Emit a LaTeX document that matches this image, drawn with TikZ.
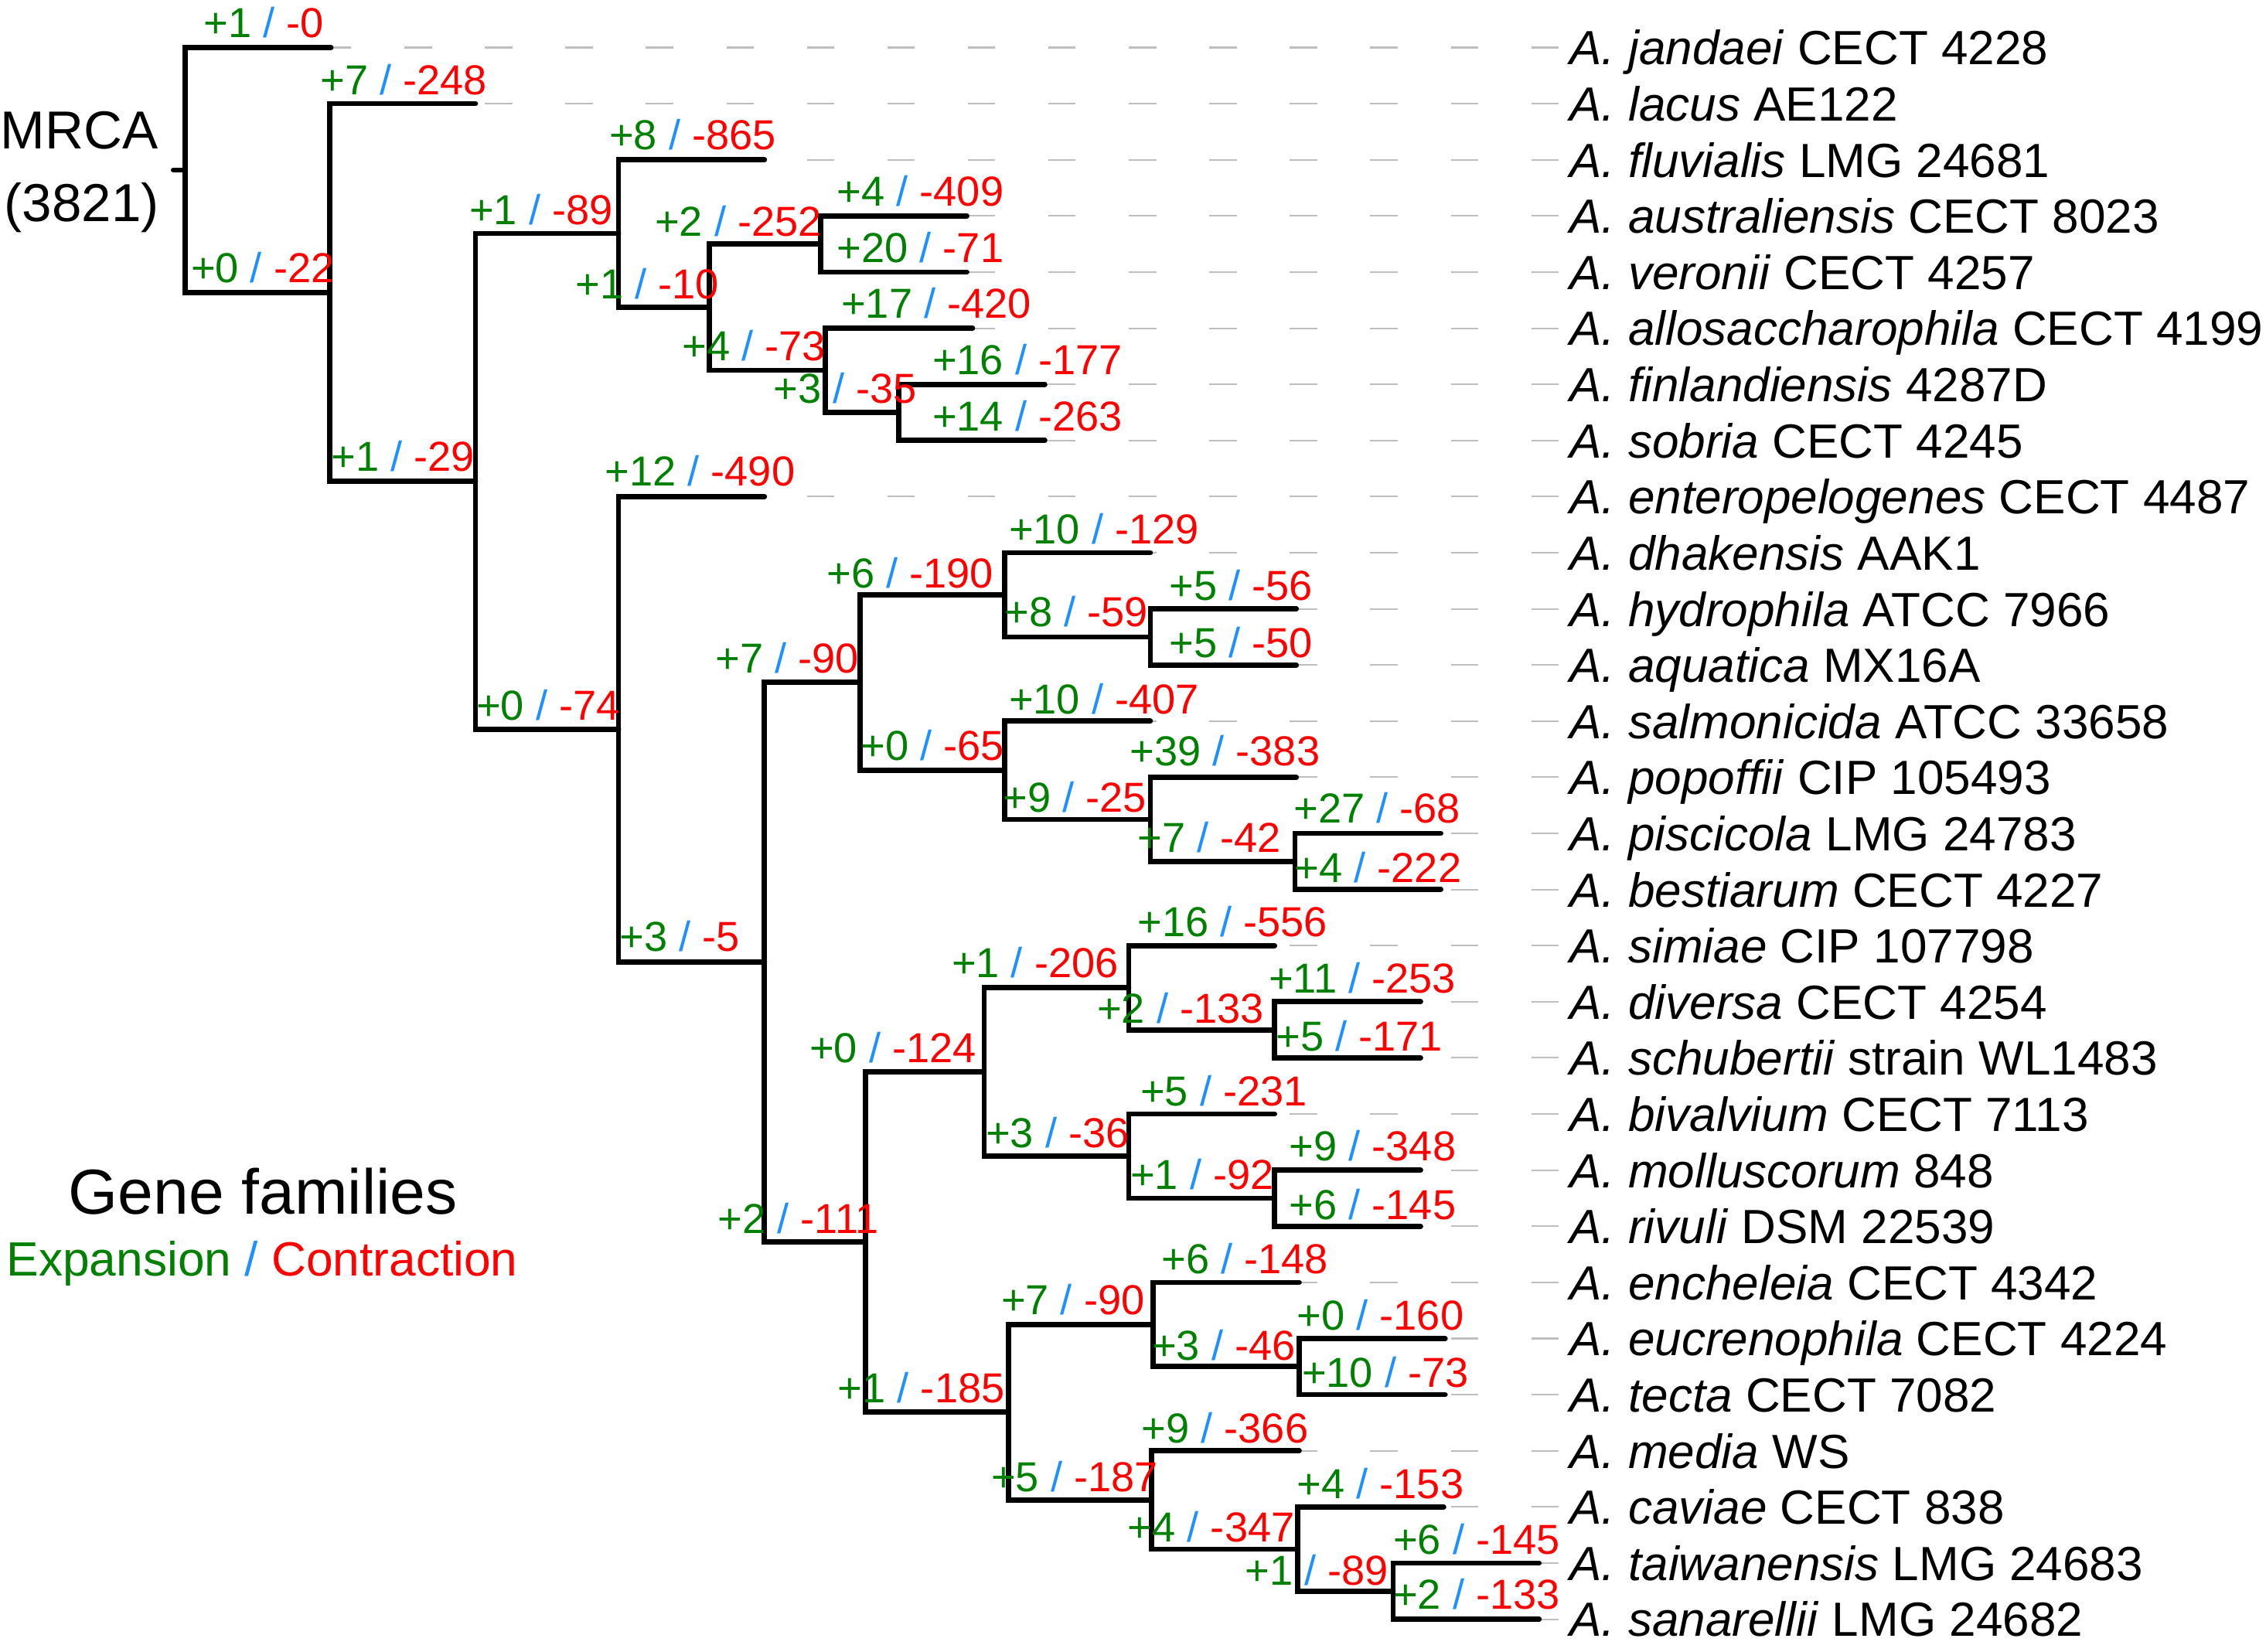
\documentclass[tikz,border=0pt]{standalone}
\usepackage{fontspec}
\setmainfont{Liberation Sans}
\definecolor{gaingreen}{RGB}{0,128,0}
\definecolor{lossred}{RGB}{255,0,0}
\definecolor{slashblue}{RGB}{30,144,255}
\definecolor{guidegray}{RGB}{190,190,190}
\newcommand{\gf}[2]{\textcolor{gaingreen}{+#1} \textcolor{slashblue}{/} \textcolor{lossred}{-#2}}

\begin{document}
\begin{tikzpicture}[
        x=1pt, y=-1pt,
        line cap=round,
        font=\fontsize{29}{34}\selectfont
    ]
    \tikzset{
        branch/.style = {line width=3.6pt, black, line join=miter},
        guide/.style = {line width=1.1pt, guidegray, line cap=butt, dash pattern=on 19pt off 36.7pt},
        gflab/.style = {anchor=west, inner sep=0pt},
        taxon/.style = {anchor=base west, inner sep=0pt, font=\fontsize{33.2}{40}\selectfont},
    }
    \useasboundingbox (0,0) rectangle (1568,1143);
    %
    \foreach \n/\tx/\sp/\st [count=\i from 0] in {
        jan/229/jandaei/CECT 4228,
        lac/329/lacus/AE122,
        flu/529/fluvialis/LMG 24681,
        aus/669/australiensis/CECT 8023,
        ver/669/veronii/CECT 4257,
        all/673/allosaccharophila/CECT 4199,
        fin/723/finlandiensis/4287D,
        sob/723/sobria/CECT 4245,
        ent/529/enteropelogenes/CECT 4487,
        dha/796/dhakensis/AAK1,
        hyd/897/hydrophila/ATCC 7966,
        aqu/897/aquatica/MX16A,
        sal/796/salmonicida/ATCC 33658,
        pop/897/popoffii/CIP 105493,
        pis/997/piscicola/LMG 24783,
        bes/997/bestiarum/CECT 4227,
        sim/882/simiae/CIP 107798,
        div/983/diversa/CECT 4254,
        sch/983/schubertii/strain WL1483,
        biv/882/bivalvium/CECT 7113,
        mol/983/molluscorum/848,
        riv/983/rivuli/DSM 22539,
        enc/899/encheleia/CECT 4342,
        euc/1000/eucrenophila/CECT 4224,
        tec/1000/tecta/CECT 7082,
        med/899/media/WS,
        cav/999/caviae/CECT 838,
        tai/1065/taiwanensis/LMG 24683,
        san/1065/sanarellii/LMG 24682}{
        \pgfmathsetmacro{\ly}{32.9+38.843*\i}
        \coordinate (\n) at (\tx,\ly);
        \coordinate (\n-g) at (1078.6,\ly);
        \draw[guide] (\n-g) -- (\n);
        \node[taxon] at (1086,\ly+12) (\n-t) {\textit{A. \sp} \st};
    }
    %
    \coordinate (stub) at (120,117.7);
    \coordinate (root) at (128,117.7);
    \coordinate (n1) at (228,202.5);
    \coordinate (n2) at (329,333.2);
    \coordinate (n3) at (428,161.6);
    \coordinate (n4) at (491,212.5);
    \coordinate (n5) at (568,168.9);
    \coordinate (n6) at (571,256.2);
    \coordinate (n7) at (622,285.4);
    \coordinate (n8) at (428,504.8);
    \coordinate (n9) at (529,665.9);
    \coordinate (n10) at (595,472.3);
    \coordinate (n11) at (695,411.6);
    \coordinate (n12) at (796,440.8);
    \coordinate (n13) at (695,533.0);
    \coordinate (n14) at (796,567.0);
    \coordinate (n15) at (896,596.1);
    \coordinate (n16) at (599,859.6);
    \coordinate (n17) at (681,741.8);
    \coordinate (n18) at (781,683.5);
    \coordinate (n19) at (882,712.7);
    \coordinate (n20) at (781,800.1);
    \coordinate (n21) at (882,829.2);
    \coordinate (n22) at (698,977.3);
    \coordinate (n23) at (798,916.6);
    \coordinate (n24) at (899,945.7);
    \coordinate (n25) at (797,1038.0);
    \coordinate (n26) at (898,1072.0);
    \coordinate (n27) at (964,1101.1);
    %
    \draw[branch] (stub) -- (root);
    \draw[branch] (root) |- (jan);
    \draw[branch] (root) |- (n1);
    \draw[branch] (n1) |- (lac);
    \draw[branch] (n1) |- (n2);
    \draw[branch] (n2) |- (n3);
    \draw[branch] (n2) |- (n8);
    %
    \draw[branch] (n3) |- (flu);
    \draw[branch] (n3) |- (n4);
    \draw[branch] (n4) |- (n5);
    \draw[branch] (n4) |- (n6);
    \draw[branch] (n5) |- (aus);
    \draw[branch] (n5) |- (ver);
    \draw[branch] (n6) |- (all);
    \draw[branch] (n6) |- (n7);
    \draw[branch] (n7) |- (fin);
    \draw[branch] (n7) |- (sob);
    %
    \draw[branch] (n8) |- (ent);
    \draw[branch] (n8) |- (n9);
    \draw[branch] (n9) |- (n10);
    \draw[branch] (n9) |- (n16);
    \draw[branch] (n10) |- (n11);
    \draw[branch] (n10) |- (n13);
    \draw[branch] (n11) |- (dha);
    \draw[branch] (n11) |- (n12);
    \draw[branch] (n12) |- (hyd);
    \draw[branch] (n12) |- (aqu);
    \draw[branch] (n13) |- (sal);
    \draw[branch] (n13) |- (n14);
    \draw[branch] (n14) |- (pop);
    \draw[branch] (n14) |- (n15);
    \draw[branch] (n15) |- (pis);
    \draw[branch] (n15) |- (bes);
    %
    \draw[branch] (n16) |- (n17);
    \draw[branch] (n16) |- (n22);
    \draw[branch] (n17) |- (n18);
    \draw[branch] (n17) |- (n20);
    \draw[branch] (n18) |- (sim);
    \draw[branch] (n18) |- (n19);
    \draw[branch] (n19) |- (div);
    \draw[branch] (n19) |- (sch);
    \draw[branch] (n20) |- (biv);
    \draw[branch] (n20) |- (n21);
    \draw[branch] (n21) |- (mol);
    \draw[branch] (n21) |- (riv);
    %
    \draw[branch] (n22) |- (n23);
    \draw[branch] (n22) |- (n25);
    \draw[branch] (n23) |- (enc);
    \draw[branch] (n23) |- (n24);
    \draw[branch] (n24) |- (euc);
    \draw[branch] (n24) |- (tec);
    \draw[branch] (n25) |- (med);
    \draw[branch] (n25) |- (n26);
    \draw[branch] (n26) |- (cav);
    \draw[branch] (n26) |- (n27);
    \draw[branch] (n27) |- (tai);
    \draw[branch] (n27) |- (san);
    %
    \node[gflab] at (141,15.5) (e-jan) {\gf{1}{0}};
    \node[gflab] at (221.5,55) (e-lac) {\gf{7}{248}};
    \node[gflab] at (132,185) (e-n1) {\gf{0}{22}};
    \node[gflab] at (229,315.7) (e-n2) {\gf{1}{29}};
    \node[gflab] at (324.7,145) (e-n3) {\gf{1}{89}};
    \node[gflab] at (421.5,93) (e-flu) {\gf{8}{865}};
    \node[gflab] at (398,196.5) (e-n4) {\gf{1}{10}};
    \node[gflab] at (453,153) (e-n5) {\gf{2}{252}};
    \node[gflab] at (579,132) (e-aus) {\gf{4}{409}};
    \node[gflab] at (579,171.3) (e-ver) {\gf{20}{71}};
    \node[gflab] at (472,239) (e-n6) {\gf{4}{73}};
    \node[gflab] at (582,209.8) (e-all) {\gf{17}{420}};
    \node[gflab] at (535,268.6) (e-n7) {\gf{3}{35}};
    \node[gflab] at (645,248.6) (e-fin) {\gf{16}{177}};
    \node[gflab] at (645,288) (e-sob) {\gf{14}{263}};
    %
    \node[gflab] at (329.5,488) (e-n8) {\gf{0}{74}};
    \node[gflab] at (418.5,326) (e-ent) {\gf{12}{490}};
    \node[gflab] at (428.6,647.7) (e-n9) {\gf{3}{5}};
    \node[gflab] at (495,455.4) (e-n10) {\gf{7}{90}};
    \node[gflab] at (572,396.5) (e-n11) {\gf{6}{190}};
    \node[gflab] at (698,366) (e-dha) {\gf{10}{129}};
    \node[gflab] at (695,423) (e-n12) {\gf{8}{59}};
    \node[gflab] at (809,405) (e-hyd) {\gf{5}{56}};
    \node[gflab] at (809,444.7) (e-aqu) {\gf{5}{50}};
    \node[gflab] at (595.5,516) (e-n13) {\gf{0}{65}};
    \node[gflab] at (698,483.8) (e-sal) {\gf{10}{407}};
    \node[gflab] at (694,551.5) (e-n14) {\gf{9}{25}};
    \node[gflab] at (781.7,519.3) (e-pop) {\gf{39}{383}};
    \node[gflab] at (787,579.5) (e-n15) {\gf{7}{42}};
    \node[gflab] at (895,559) (e-pis) {\gf{27}{68}};
    \node[gflab] at (895.7,600.4) (e-bes) {\gf{4}{222}};
    %
    \node[gflab] at (496.7,843) (e-n16) {\gf{2}{111}};
    \node[gflab] at (560,725) (e-n17) {\gf{0}{124}};
    \node[gflab] at (658.4,666) (e-n18) {\gf{1}{206}};
    \node[gflab] at (787,637.5) (e-sim) {\gf{16}{556}};
    \node[gflab] at (759,697.4) (e-n19) {\gf{2}{133}};
    \node[gflab] at (877.8,676.8) (e-div) {\gf{11}{253}};
    \node[gflab] at (882.7,717) (e-sch) {\gf{5}{171}};
    \node[gflab] at (682,783.7) (e-n20) {\gf{3}{36}};
    \node[gflab] at (789,755) (e-biv) {\gf{5}{231}};
    \node[gflab] at (782,812.8) (e-n21) {\gf{1}{92}};
    \node[gflab] at (892,793) (e-mol) {\gf{9}{348}};
    \node[gflab] at (892,833.4) (e-riv) {\gf{6}{145}};
    %
    \node[gflab] at (579.7,960.5) (e-n22) {\gf{1}{185}};
    \node[gflab] at (692.6,899.6) (e-n23) {\gf{7}{90}};
    \node[gflab] at (803.5,871) (e-enc) {\gf{6}{148}};
    \node[gflab] at (797,930.7) (e-n24) {\gf{3}{46}};
    \node[gflab] at (897.3,910) (e-euc) {\gf{0}{160}};
    \node[gflab] at (900.7,949.5) (e-tec) {\gf{10}{73}};
    \node[gflab] at (685.8,1021.9) (e-n25) {\gf{5}{187}};
    \node[gflab] at (789.8,988) (e-med) {\gf{9}{366}};
    \node[gflab] at (780.3,1056.7) (e-n26) {\gf{4}{347}};
    \node[gflab] at (897.3,1026.8) (e-cav) {\gf{4}{153}};
    \node[gflab] at (861.4,1086.5) (e-n27) {\gf{1}{89}};
    \node[gflab] at (963.9,1065) (e-tai) {\gf{6}{145}};
    \node[gflab] at (963.9,1103.4) (e-san) {\gf{2}{133}};
    %
    \node[anchor=base, font=\fontsize{37}{44}\selectfont] at (55,103) (mrca) {MRCA};
    \node[anchor=base, font=\fontsize{37}{44}\selectfont] at (56.5,153) (mrcasize) {(3821)};
    \node[anchor=base, font=\fontsize{44}{52}\selectfont] at (182,840) (legtitle) {Gene families};
    \node[anchor=base, font=\fontsize{33.3}{40}\selectfont] at (181.4,883) (legkey) {\textcolor{gaingreen}{Expansion} \textcolor{slashblue}{/} \textcolor{lossred}{Contraction}};
\end{tikzpicture}
\end{document}
